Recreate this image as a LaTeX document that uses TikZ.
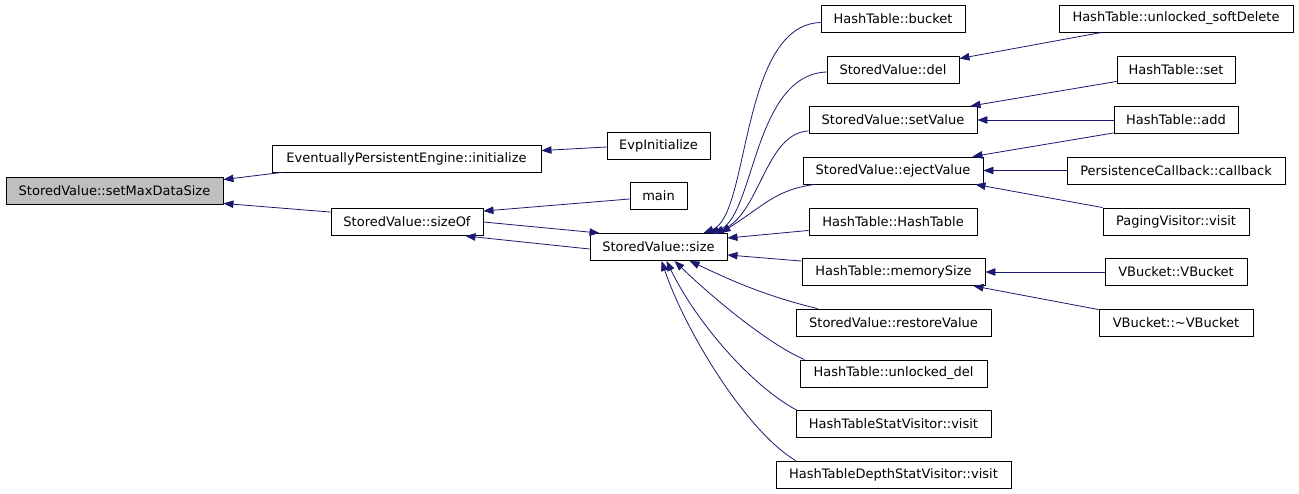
\documentclass[tikz,border=0pt]{standalone}
\usepackage{fontspec}
\setmainfont{DejaVu Sans}
\usetikzlibrary{arrows.meta,calc}
\definecolor{edgec}{RGB}{25,25,112}
\definecolor{rootfill}{RGB}{191,191,191}
\begin{document}
\begin{tikzpicture}[x=1pt,y=-1pt,
  box/.style={draw=black, line width=0.9pt, minimum height=27pt, inner sep=0pt, font=\fontsize{13}{15}\selectfont},
  edge/.style={draw=edgec, line width=0.8pt, -{Triangle[length=10pt,width=7.5pt]}}]
\useasboundingbox[fill=white] (0,0) rectangle (1299,493);
% nodes
\node[box,fill=rootfill,minimum width=217pt] (smds) at (114.5,190.5) {StoredValue::setMaxDataSize};
\node[box,minimum width=269pt] (init) at (406.5,158.5) {EventuallyPersistentEngine::initialize};
\node[box,minimum width=103pt] (evp) at (658.5,145.5) {EvpInitialize};
\node[box,minimum width=57pt] (main) at (658.5,196) {main};
\node[box,minimum width=152pt] (sizeOf) at (407,222) {StoredValue::sizeOf};
\node[box,minimum width=137pt] (size) at (658.5,247) {StoredValue::size};
\node[box,minimum width=144pt] (bucket) at (893,18.5) {HashTable::bucket};
\node[box,minimum width=132pt] (del) at (893,69.5) {StoredValue::del};
\node[box,minimum width=168pt] (setValue) at (893,120) {StoredValue::setValue};
\node[box,minimum width=180pt] (eject) at (893,170.5) {StoredValue::ejectValue};
\node[box,minimum width=168pt] (htht) at (893,221.5) {HashTable::HashTable};
\node[box,minimum width=183pt] (memsize) at (893.5,272) {HashTable::memorySize};
\node[box,minimum width=195pt] (restore) at (893.5,322.5) {StoredValue::restoreValue};
\node[box,minimum width=187pt] (udel) at (893.5,373.5) {HashTable::unlocked\_del};
\node[box,minimum width=195pt] (statv) at (893.5,424) {HashTableStatVisitor::visit};
\node[box,minimum width=235pt] (depthv) at (893.5,474.5) {HashTableDepthStatVisitor::visit};
\node[box,minimum width=234pt] (softdel) at (1176,18.5) {HashTable::unlocked\_softDelete};
\node[box,minimum width=118pt] (set) at (1176,69.5) {HashTable::set};
\node[box,minimum width=124pt] (add) at (1176,120) {HashTable::add};
\node[box,minimum width=218pt] (callback) at (1176,170.5) {PersistenceCallback::callback};
\node[box,minimum width=146pt] (paging) at (1176,221.5) {PagingVisitor::visit};
\node[box,minimum width=142pt] (vb) at (1176,272) {VBucket::VBucket};
\node[box,minimum width=154pt] (vbd) at (1176,322.5) {VBucket::\textasciitilde VBucket};
% edges
\draw[edge] ([xshift=10pt]init.south west) -- ([yshift=-3pt]smds.north east);
\draw[edge] ([yshift=-4pt]sizeOf.north west) -- ([yshift=1pt]smds.south east);
\draw[edge] ([yshift=-1.5pt]evp.west) -- ([yshift=-6pt]init.north east);
\draw[edge] ([yshift=-3pt]main.west) -- ([yshift=-3pt]sizeOf.north east);
\draw[edge] (sizeOf.east) -- ([xshift=10pt]size.north west);
\draw[edge] ([yshift=-2pt]size.west) -- ([xshift=-18pt]sizeOf.south east);
\draw[edge] ([yshift=-4pt]bucket.west) .. controls (740,25) and (750,215) .. ([xshift=114pt]size.north west);
\draw[edge] ([yshift=-2.5pt]del.west) .. controls (752,75) and (755,220) .. ([xshift=119pt]size.north west);
\draw[edge] ([yshift=3pt]setValue.south west) .. controls (765,133) and (760,215) .. ([xshift=124pt]size.north west);
\draw[edge] ([xshift=12pt]eject.south west) .. controls (775,190) and (765,205) .. ([xshift=131pt]size.north west);
\draw[edge] ([yshift=5pt]htht.south west) -- ([yshift=-5pt]size.north east);
\draw[edge] ([yshift=-3pt]memsize.north west) -- ([yshift=6pt]size.south east);
\draw[edge] ([xshift=22pt]restore.north west) .. controls (760,295) and (720,275) .. ([xshift=100pt]size.south west);
\draw[edge] ([xshift=5pt]udel.north west) .. controls (770,345) and (715,300) .. ([xshift=85pt]size.south west);
\draw[edge] ([xshift=1pt]statv.north west) .. controls (750,385) and (695,320) .. ([xshift=77pt]size.south west);
\draw[edge] ([xshift=20pt]depthv.north west) .. controls (745,430) and (685,330) .. ([xshift=72pt]size.south west);
\draw[edge] ([xshift=43pt]softdel.south west) -- ([yshift=-3pt]del.north east);
\draw[edge] ([yshift=2pt]set.south west) -- ([xshift=-7pt]setValue.north east);
\draw[edge] (add.west) -- (setValue.east);
\draw[edge] ([yshift=1pt]add.south west) -- ([xshift=-11pt]eject.north east);
\draw[edge] (callback.west) -- (eject.east);
\draw[edge] (paging.north west) -- ([xshift=-8pt]eject.south east);
\draw[edge] (vb.west) -- (memsize.east);
\draw[edge] ([yshift=-1pt]vbd.north west) -- ([xshift=-12pt]memsize.south east);
\end{tikzpicture}
\end{document}
